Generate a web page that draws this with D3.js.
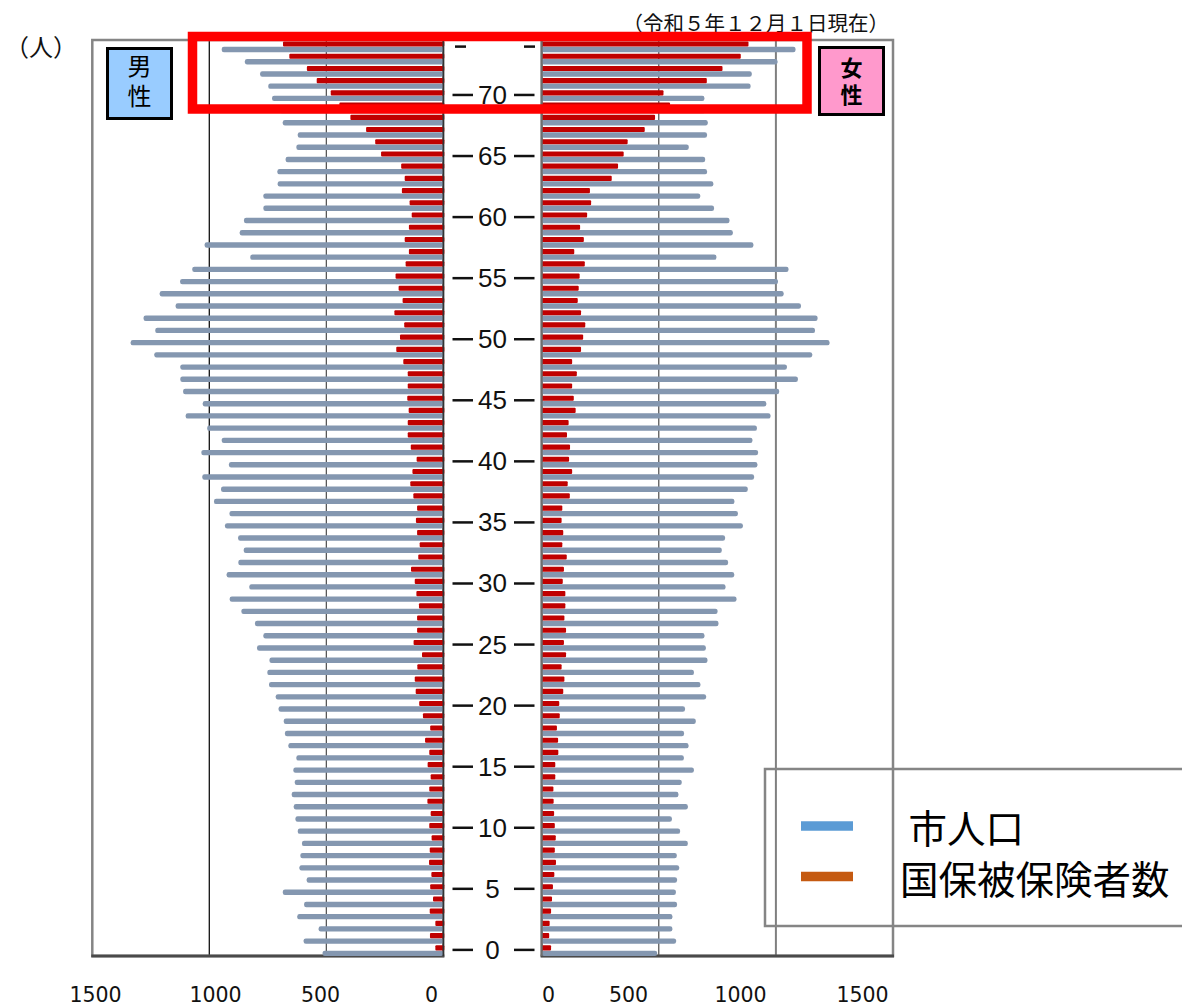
<!DOCTYPE html>
<html lang="ja">
<head>
<meta charset="utf-8">
<title>人口ピラミッド</title>
<script src="https://cdn.jsdelivr.net/npm/d3@7"></script>
<style>
  html, body { margin: 0; padding: 0; background: #fff; }
  svg { display: block; }
  .cjk { font-family: "Noto Sans CJK JP", "Noto Sans", sans-serif; }
  .num { font-family: "DejaVu Sans", sans-serif; }
  .age { font-family: "Liberation Sans Narrow", "Liberation Sans", Arial, sans-serif; }
</style>
</head>
<body>
<script>
// 年齢（0〜74歳）
const ages = d3.range(0, 75);

// 男性 市人口（年齢0〜74）
const maleTotal = [
  516, 597, 533, 624, 595, 686, 584, 615, 611, 604,
  622, 632, 639, 648, 635, 641, 628, 662, 677, 682,
  704, 716, 745, 752, 743, 796, 769, 805, 863, 913,
  829, 926, 876, 853, 877, 933, 914, 980, 950, 1030,
  916, 1034, 947, 1009, 1101, 1028, 1112, 1124, 1124, 1235,
  1336, 1231, 1281, 1144, 1212, 1125, 1073, 825, 1020, 870,
  852, 769, 769, 708, 709, 674, 628, 622, 686, 700,
  732, 748, 783, 848, 947
];
// 男性 国保被保険者数
const maleInsured = [
  34, 57, 34, 58, 44, 56, 51, 61, 58, 50,
  60, 54, 68, 60, 54, 67, 60, 78, 56, 87,
  103, 118, 122, 111, 91, 127, 112, 112, 104, 115,
  122, 138, 107, 101, 112, 117, 112, 128, 141, 132,
  114, 139, 152, 152, 148, 154, 152, 152, 171, 201,
  185, 167, 209, 174, 191, 204, 161, 147, 165, 147,
  135, 144, 177, 165, 180, 266, 291, 330, 397, 444,
  481, 541, 583, 658, 685
];
// 女性 市人口
const femaleTotal = [
  493, 574, 558, 558, 578, 573, 578, 587, 577, 624,
  591, 556, 624, 584, 598, 650, 607, 627, 608, 658,
  612, 702, 678, 650, 708, 701, 695, 755, 751, 832,
  785, 822, 796, 769, 783, 859, 838, 823, 880, 907,
  921, 924, 900, 919, 977, 959, 1014, 1094, 1047, 1155,
  1229, 1167, 1178, 1107, 1033, 1009, 1054, 746, 904, 816,
  802, 736, 677, 733, 706, 698, 628, 706, 709, 700,
  695, 892, 897, 1007, 1084
];
// 女性 国保被保険者数
const femaleInsured = [
  40, 32, 34, 40, 44, 48, 54, 61, 56, 60,
  56, 53, 51, 50, 58, 58, 71, 70, 65, 77,
  75, 92, 97, 85, 104, 95, 104, 97, 101, 101,
  90, 95, 107, 88, 92, 85, 88, 120, 111, 130,
  117, 121, 108, 115, 145, 137, 130, 150, 130, 168,
  177, 186, 168, 154, 158, 162, 184, 139, 180, 164,
  194, 211, 206, 299, 326, 350, 367, 440, 484, 548,
  520, 705, 772, 850, 883
];

// 目盛・凡例・見出し
const xTicks = [0, 500, 1000, 1500];
const gridValues = [500, 1000];
const ageLabelStep = 5;
const legendItems = [" 市人口", "国保被保険者数"];
const legendColors = ["#5B9BD5", "#C55A11"];
const unitLabel = "（人）";
const dateLabel = "（令和５年１２月１日現在）";
const maleLabel = "男性";
const femaleLabel = "女性";

const W = 1182, H = 1007;
const plotTop = 40, plotBottom = 956;
const svg = d3.select("body").append("svg")
  .attr("width", W).attr("height", H)
  .attr("viewBox", `0 0 ${W} ${H}`);
svg.append("rect").attr("width", W).attr("height", H).attr("fill", "#fff");

// 横軸（左：男性は右から左へ、右：女性は左から右へ）
const xL = d3.scaleLinear().domain([0, 1500]).range([443.3, 92.3]);
const xR = d3.scaleLinear().domain([0, 1500]).range([541.7, 893]);
const y = d3.scaleBand().domain(ages.slice().reverse()).range([plotTop, plotBottom]).paddingInner(0).paddingOuter(0);
const bw = y.bandwidth();
const mid = (xL(0) + xR(0)) / 2;

const COL_POP = "#8497B0";
const COL_INS = "#C00000";

// 目盛線
const gridStyle = { 500: ["#3a3a3a", 1.1], 1000: ["#111", 1.3] };
svg.append("g").selectAll("line").data(gridValues).join("line")
  .attr("x1", d => xL(d)).attr("x2", d => xL(d))
  .attr("y1", plotTop).attr("y2", plotBottom)
  .attr("stroke", d => gridStyle[d][0]).attr("stroke-width", d => gridStyle[d][1]);
const gridStyleR = { 500: ["#3a3a3a", 1.1], 1000: ["#7f7f7f", 2] };
svg.append("g").selectAll("line").data(gridValues).join("line")
  .attr("x1", d => xR(d)).attr("x2", d => xR(d))
  .attr("y1", plotTop).attr("y2", plotBottom)
  .attr("stroke", d => gridStyleR[d][0]).attr("stroke-width", d => gridStyleR[d][1]);

// 枠
function frame(x0, x1) {
  const g = svg.append("g");
  g.append("rect").attr("x", Math.min(x0, x1)).attr("y", plotTop)
    .attr("width", Math.abs(x1 - x0)).attr("height", plotBottom - plotTop)
    .attr("fill", "none").attr("stroke", "#858585").attr("stroke-width", 2.5);
  g.append("line").attr("x1", Math.min(x0, x1) - 1).attr("x2", Math.max(x0, x1) + 1)
    .attr("y1", plotBottom).attr("y2", plotBottom)
    .attr("stroke", "#4a4a4a").attr("stroke-width", 3);
}
frame(xL(1500), xL(0));
frame(xR(0), xR(1500));

// 男性の棒
const male = svg.append("g");
male.selectAll("rect.pop").data(ages).join("rect").attr("class", "pop")
  .attr("x", a => xL(maleTotal[a]))
  .attr("width", a => xL(0) - xL(maleTotal[a]))
  .attr("y", a => y(a) + bw * 0.56).attr("height", bw * 0.44)
  .attr("rx", 2.2).attr("fill", COL_POP);
male.selectAll("rect.ins").data(ages).join("rect").attr("class", "ins")
  .attr("x", a => xL(maleInsured[a]))
  .attr("width", a => xL(0) - xL(maleInsured[a]) + 1)
  .attr("y", a => y(a) + bw * 0.12).attr("height", bw * 0.42)
  .attr("rx", 1).attr("fill", COL_INS);

// 女性の棒
const female = svg.append("g");
female.selectAll("rect.pop").data(ages).join("rect").attr("class", "pop")
  .attr("x", xR(0))
  .attr("width", a => xR(femaleTotal[a]) - xR(0))
  .attr("y", a => y(a) + bw * 0.56).attr("height", bw * 0.44)
  .attr("rx", 2.2).attr("fill", COL_POP);
female.selectAll("rect.ins").data(ages).join("rect").attr("class", "ins")
  .attr("x", xR(0))
  .attr("width", a => xR(femaleInsured[a]) - xR(0))
  .attr("y", a => y(a) + bw * 0.12).attr("height", bw * 0.42)
  .attr("rx", 1).attr("fill", COL_INS);

// 中央の軸線
svg.append("line").attr("x1", xL(0)).attr("x2", xL(0)).attr("y1", plotTop).attr("y2", plotBottom)
  .attr("stroke", "#333").attr("stroke-width", 1.5);
svg.append("line").attr("x1", xR(0)).attr("x2", xR(0)).attr("y1", plotTop).attr("y2", plotBottom)
  .attr("stroke", "#6e6e6e").attr("stroke-width", 2);

// 年齢ラベル
const ageG = svg.append("g");
const labelled = ages.filter(a => a % ageLabelStep === 0);
const cy = a => y(a) + bw / 2;
ageG.selectAll("text").data(labelled).join("text")
  .attr("class", "age")
  .attr("x", mid).attr("y", a => cy(a))
  .attr("text-anchor", "middle").attr("dominant-baseline", "central")
  .attr("font-size", 26).attr("fill", "#111")
  .text(a => a);
ageG.selectAll("line.l").data(labelled).join("line").attr("class", "l")
  .attr("x1", mid - 40).attr("x2", mid - 19.5)
  .attr("y1", a => cy(a)).attr("y2", a => cy(a))
  .attr("stroke", "#111").attr("stroke-width", 2.5);
ageG.selectAll("line.r").data(labelled).join("line").attr("class", "r")
  .attr("x1", mid + 21.5).attr("x2", mid + 42)
  .attr("y1", a => cy(a)).attr("y2", a => cy(a))
  .attr("stroke", "#111").attr("stroke-width", 2.5);
// 最上段の短い目盛
const topAge = d3.max(ages);
ageG.append("line").attr("x1", mid - 37.5).attr("x2", mid - 26.5)
  .attr("y1", cy(topAge) + 0.5).attr("y2", cy(topAge) + 0.5)
  .attr("stroke", "#111").attr("stroke-width", 2.5);
ageG.append("line").attr("x1", mid + 31.5).attr("x2", mid + 42.5)
  .attr("y1", cy(topAge) + 0.5).attr("y2", cy(topAge) + 0.5)
  .attr("stroke", "#111").attr("stroke-width", 2.5);

// 下の目盛ラベル
const labelScaleL = d3.scaleLinear().domain(xTicks).range([431, 320, 215, 95]);
const labelScaleR = d3.scaleLinear().domain(xTicks).range([548, 628, 740, 862]);
[labelScaleL, labelScaleR].forEach(s => {
  const ax = svg.append("g").attr("transform", "translate(0,985)")
    .call(d3.axisBottom(s).tickValues(xTicks).tickSize(0).tickPadding(0).tickFormat(d3.format("d")));
  ax.select(".domain").remove();
  ax.selectAll("text").attr("class", "num").attr("font-size", 20.5)
    .attr("fill", "#111").attr("dy", "0").attr("y", 17)
    .style("font-family", "'DejaVu Sans', sans-serif");
});

// 性別ボックス（縦書き）
function sexBox(x, yy, w, h, fill, label, bold, size, spacing, cyText) {
  const g = svg.append("g");
  g.append("rect").attr("x", x).attr("y", yy).attr("width", w).attr("height", h)
    .attr("fill", fill).attr("stroke", "#000").attr("stroke-width", 3);
  g.append("text").attr("class", "cjk")
    .attr("x", x + w / 2).attr("y", cyText)
    .attr("text-anchor", "middle")
    .style("writing-mode", "vertical-rl")
    .style("letter-spacing", spacing + "px")
    .attr("font-size", size).attr("font-weight", bold ? 700 : 400).attr("fill", "#000")
    .text(label);
}
sexBox(107.5, 48.5, 64, 70, "#99CCFF", maleLabel, false, 24, 6, 84);
sexBox(819.5, 47.5, 64, 67, "#FF99CC", femaleLabel, true, 22, 5, 84);

// 見出し
svg.append("text").attr("class", "cjk").attr("x", 5).attr("y", 45)
  .attr("dominant-baseline", "central").attr("font-size", 24).attr("fill", "#111")
  .text(unitLabel);
svg.append("text").attr("class", "cjk").attr("x", 889).attr("y", 22)
  .attr("text-anchor", "end").attr("dominant-baseline", "central")
  .attr("font-size", 20.5).attr("fill", "#111")
  .text(dateLabel);

// 凡例
const lg = svg.append("g");
lg.append("rect").attr("x", 765).attr("y", 769).attr("width", 440).attr("height", 157)
  .attr("fill", "none").attr("stroke", "#858585").attr("stroke-width", 2.5);
const legendY = [826, 876.5];
lg.selectAll("line").data(legendItems).join("line")
  .attr("x1", 801).attr("x2", 853)
  .attr("y1", (d, i) => legendY[i]).attr("y2", (d, i) => legendY[i])
  .attr("stroke", (d, i) => legendColors[i]).attr("stroke-width", 9.5);
lg.selectAll("text").data(legendItems).join("text").attr("class", "cjk")
  .attr("x", 900).attr("y", (d, i) => legendY[i])
  .attr("dominant-baseline", "central").attr("font-size", 38.5).attr("fill", "#000")
  .style("white-space", "pre")
  .text(d => d);

// 強調枠
svg.append("rect").attr("x", 192.5).attr("y", 36.5).attr("width", 614.5).attr("height", 72.5)
  .attr("fill", "none").attr("stroke", "#FF0000").attr("stroke-width", 9.5);
</script>
</body>
</html>
